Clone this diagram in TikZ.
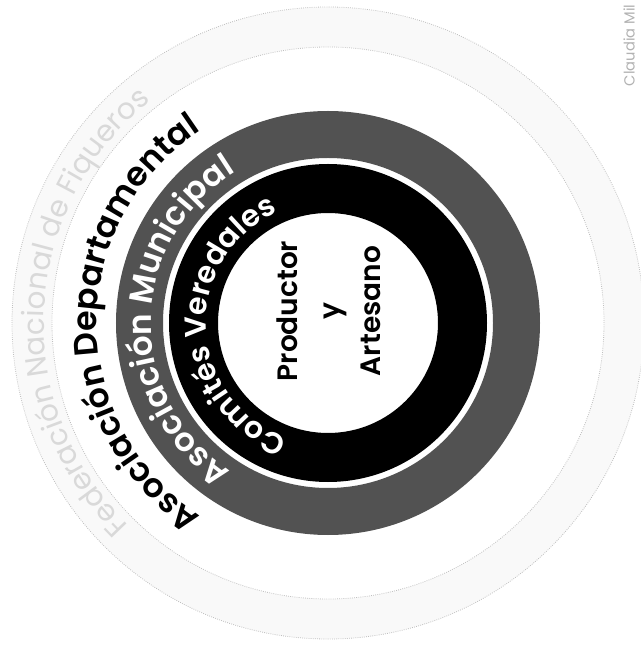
\documentclass[tikz,border=0pt]{standalone}
\usepackage{fontspec}
\setsansfont{Poppins}[BoldFont={* SemiBold}]
\usetikzlibrary{decorations.text}
\tikzset{
  arctext/.style={decorate, decoration={text along path, text align=center, text color=#1}},
  ring/.style={draw=none, fill=#1, even odd rule}
}
\begin{document}
\begin{tikzpicture}[x=0.75pt, y=0.75pt, font=\sffamily\bfseries]
	\useasboundingbox (-328,-326) rectangle (313,323);
	\coordinate (O) at (0,0);
	% faint outer band
	\fill[gray!5, even odd rule] (O) circle (316) (O) circle (276);
	\draw[gray!50, densely dotted, line width=0.6pt] (O) circle (316) (O) circle (276);
	% rings
	\path[ring=black!68] (O) circle (212) (O) circle (165);
	\path[ring=black] (O) circle (159) (O) circle (110);
	% texts along the rings
	\path[arctext=gray!30, decoration={text={|\sffamily\fontsize{22}{26}\selectfont|Federación Nacional de Fiqueros}}]
		(O) ++(250:284) arc[start angle=250, end angle=104, radius=284];
	\path[arctext=black, decoration={text={|\sffamily\bfseries\fontsize{25}{30}\selectfont|Asociación Departamental}}]
		(O) ++(250:231) arc[start angle=250, end angle=110, radius=231];
	\path[arctext=white, decoration={text={|\sffamily\bfseries\fontsize{24.5}{30}\selectfont|Asociación Municipal}}]
		(O) ++(252:177) arc[start angle=252, end angle=106, radius=177];
	\path[arctext=white, decoration={text={|\sffamily\bfseries\fontsize{22.5}{27}\selectfont|Comités Veredales}}]
		(O) ++(255:122) arc[start angle=255, end angle=110, radius=122];
	% centre
	\node[rotate=90, align=center, font=\sffamily\bfseries\fontsize{21}{31}\selectfont] (P) at (1,12) {Productor\\y\\Artesano};
	\node[rotate=90, anchor=east, text=gray!60, font=\sffamily\mdseries\fontsize{11}{13}\selectfont] (S) at (301,323) {Claudia Mil};
\end{tikzpicture}
\end{document}
